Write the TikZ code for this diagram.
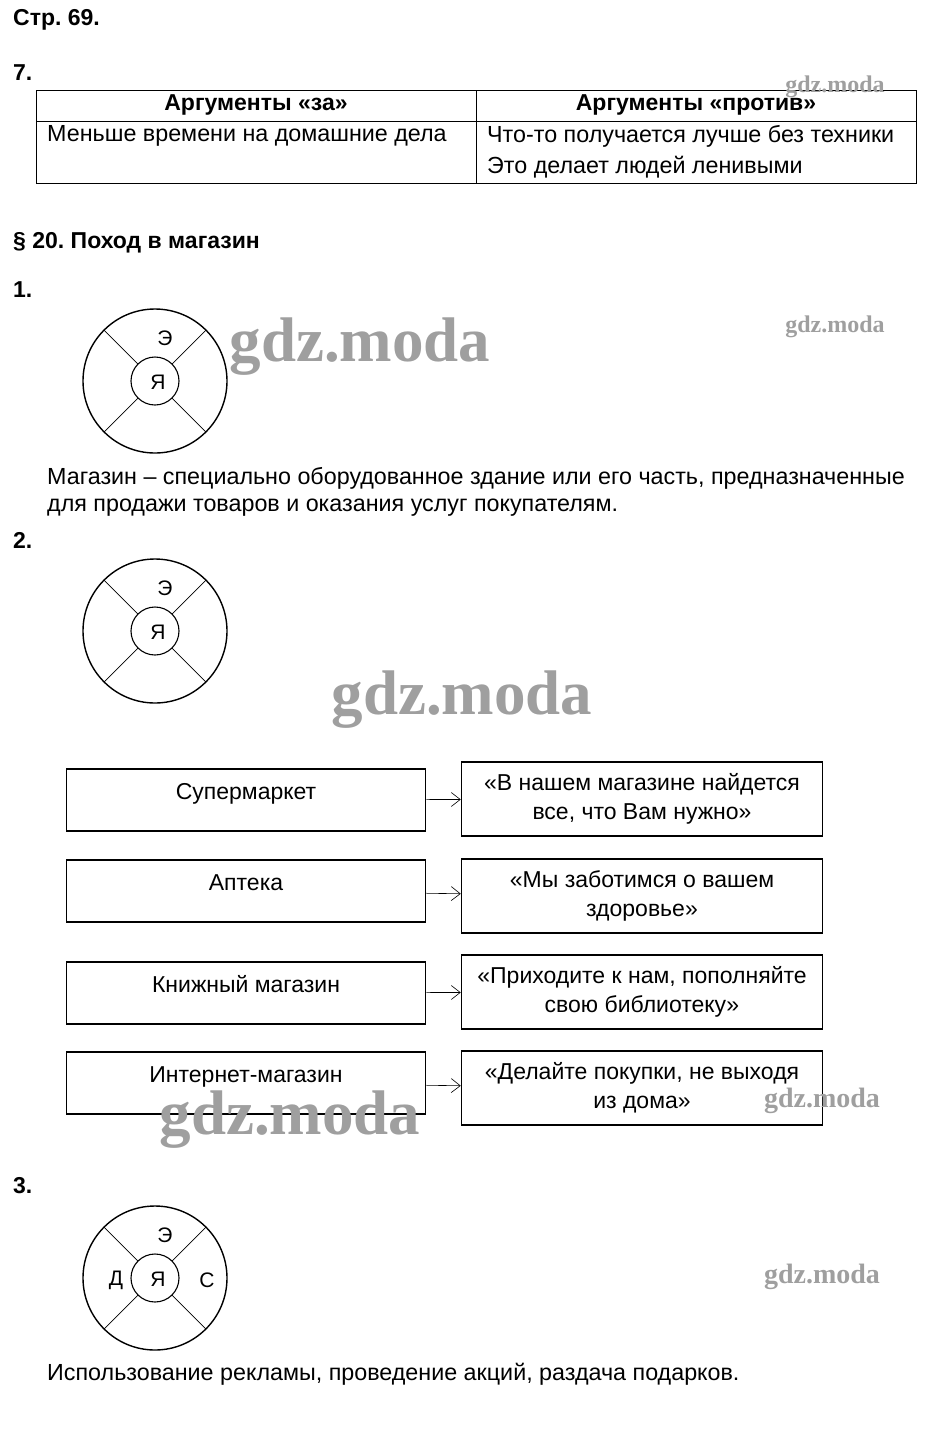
\documentclass[tikz,border=0pt]{standalone}
\usepackage{fontspec}
\setmainfont{Liberation Sans}
\newfontfamily\wmfont{Liberation Serif}
\usetikzlibrary{arrows.meta,positioning}
\frenchspacing

\tikzset{
    ego/.pic={
        \draw[line width=1.4pt] (0,0) circle (72pt);
        \draw[line width=1.1pt] (0,0) circle (24pt);
        \foreach \a in {45,135,225,315}
            \draw[line width=0.7pt] (\a:24pt) -- (\a:72pt);
        \node[egotext] (-me) at (3pt,-1pt) {Я};
        \node[egotext] (-eco) at (10pt,43pt) {Э};
    }
}

\begin{document}
\begin{tikzpicture}[
        x=1pt, y=-1pt,
        head/.style={anchor=west, inner sep=0pt, font=\fontsize{23}{27}\selectfont\bfseries},
        txt/.style={anchor=west, inner sep=0pt, font=\fontsize{23.3}{27}\selectfont},
        egotext/.style={inner sep=0pt, font=\fontsize{21}{24}\selectfont},
        block/.style={
            draw,
            line width=1.5pt,
            minimum width=359pt,
            minimum height=62pt,
            text height=15pt,
            text depth=16pt,
            font=\fontsize{23}{27}\selectfont
        },
        slogan/.style={
            draw,
            line width=1.5pt,
            align=center,
            minimum width=361pt,
            minimum height=74pt,
            font=\fontsize{23}{29}\selectfont
        },
        arrow/.style={
            -{Straight Barb[length=9pt,width=14pt]},
            line width=0.6pt
        },
        wm/.style={text=gray!75, inner sep=0pt, font=\wmfont\bfseries\fontsize{#1}{#1}\selectfont}
    ]

        \useasboundingbox (0,0) rectangle (934,1436);

        % page heading
        \node[head] (page) at (13,20) {Стр. 69.};
        \node[head] (task7) at (13,73) {7.};

        % table
        \draw[line width=1pt] (36,90) rectangle (916,183);
        \draw[line width=1pt] (36,121) -- (916,121);
        \draw[line width=1pt] (476,90) -- (476,183);
        \node[font=\fontsize{23}{26}\selectfont\bfseries] (pro) at (256,105) {Аргументы «за»};
        \node[font=\fontsize{23}{26}\selectfont\bfseries] (contra) at (696,105) {Аргументы «против»};
        \node[txt] (pro1) at (47,136) {Меньше времени на домашние дела};
        \node[txt] (contra1) at (487,136) {Что-то получается лучше без техники};
        \node[txt] (contra2) at (487,167) {Это делает людей ленивыми};

        % section 20
        \node[head] (par20) at (13,243) {§ 20. Поход в магазин};
        \node[head] (task1) at (13,290) {1.};
        \pic (egoa) at (155,381) {ego};
        \node[txt] (def1) at (47,478) {Магазин – специально оборудованное здание или его часть, предназначенные};
        \node[txt] (def2) at (47,508) {для продажи товаров и оказания услуг покупателям.};

        \node[head] (task2) at (13,540) {2.};
        \pic (egob) at (155,631) {ego};

        % shops and slogans
        \node[block] (super) at (246,800) {Супермаркет};
        \node[block] (pharmacy) at (246,891) {Аптека};
        \node[block] (books) at (246,993) {Книжный магазин};
        \node[block] (online) at (246,1083) {Интернет-магазин};

        \node[slogan] (superslogan) at (642,799) {«В нашем магазине найдется\\все, что Вам нужно»};
        \node[slogan] (pharmacyslogan) at (642,896) {«Мы заботимся о вашем\\здоровье»};
        \node[slogan] (booksslogan) at (642,992) {«Приходите к нам, пополняйте\\свою библиотеку»};
        \node[slogan] (onlineslogan) at (642,1088) {«Делайте покупки, не выходя\\из дома»};

        \draw[arrow] (super) -- (superslogan);
        \draw[arrow] (pharmacy) -- (pharmacyslogan);
        \draw[arrow] (books) -- (booksslogan);
        \draw[arrow] (online) -- (onlineslogan);

        \node[head] (task3) at (13,1186) {3.};
        \pic (egoc) at (155,1278) {ego};
        \node[egotext] (family) at (116,1280) {Д};
        \node[egotext] (school) at (207,1280) {С};
        \node[txt] (ads) at (47,1374) {Использование рекламы, проведение акций, раздача подарков.};

        % watermarks
        \node[wm=63] (wma) at (360,347) {gdz.moda};
        \node[wm=63] (wmb) at (462,700) {gdz.moda};
        \node[wm=63] (wmc) at (290,1120) {gdz.moda};
        \node[wm=24] (wmd) at (835,87) {gdz.moda};
        \node[wm=24] (wme) at (835,327) {gdz.moda};
        \node[wm=28] (wmf) at (822,1101) {gdz.moda};
        \node[wm=28] (wmg) at (822,1277) {gdz.moda};

    \end{tikzpicture}
\end{document}
